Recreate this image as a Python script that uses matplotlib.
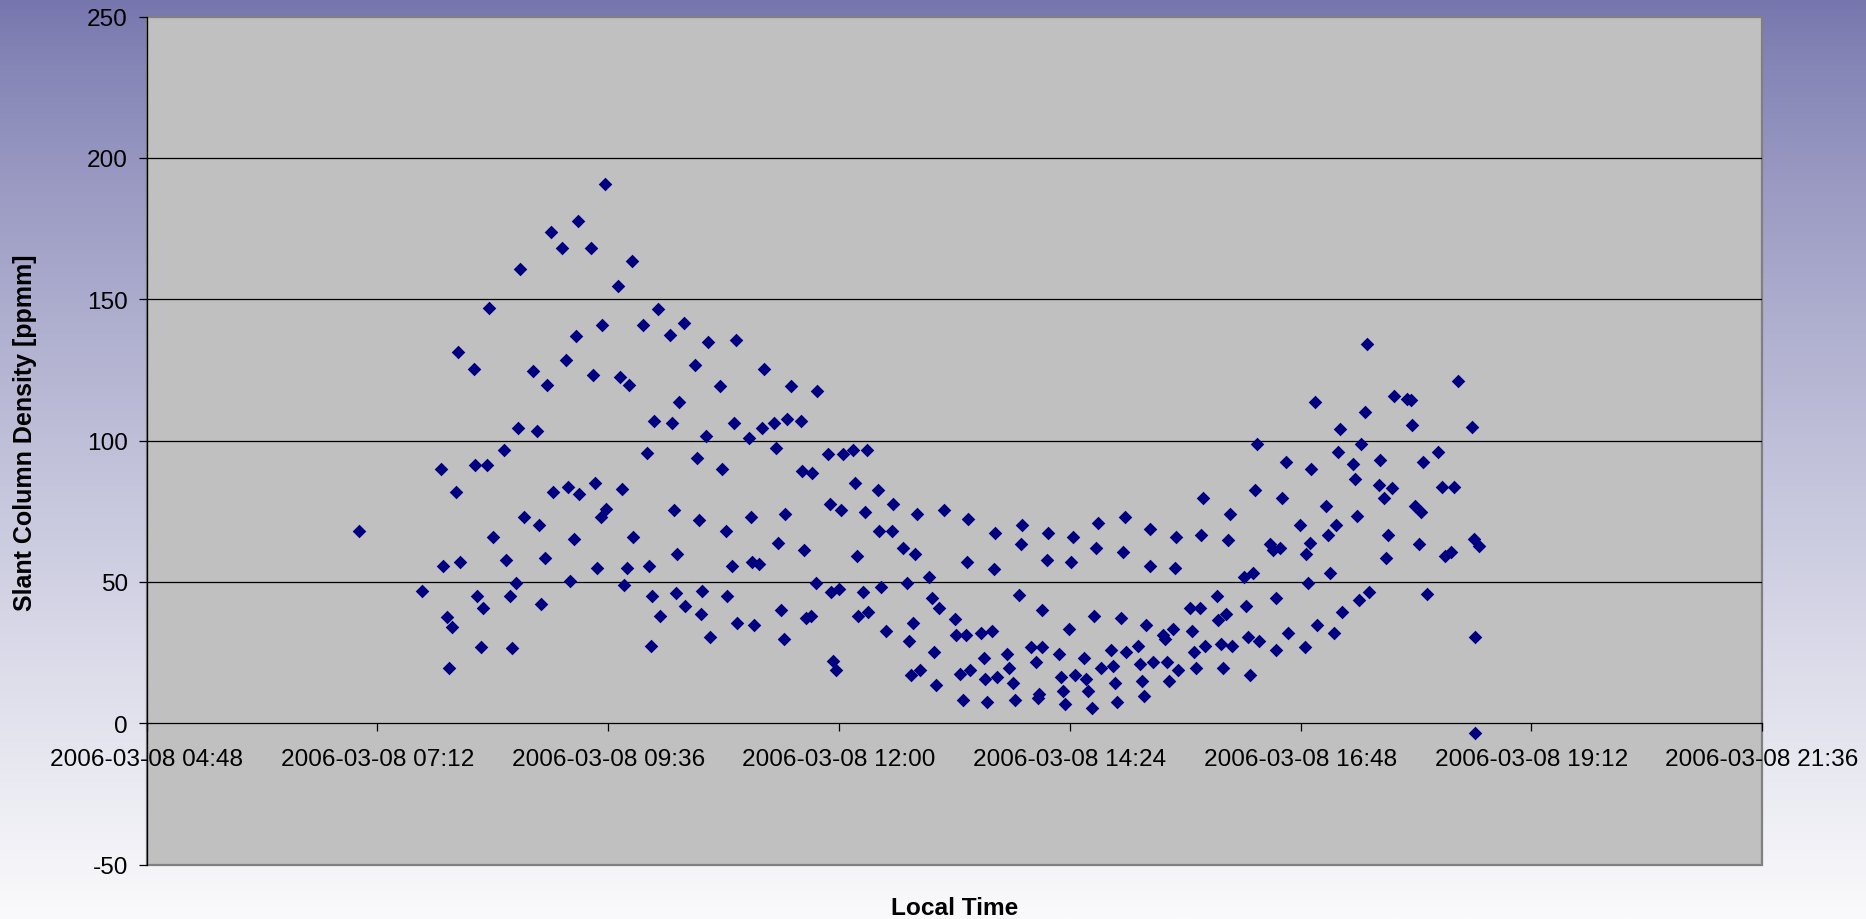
import numpy as np
import pandas as pd
import matplotlib
matplotlib.use("Agg")
import matplotlib.pyplot as plt
import matplotlib.dates as mdates
from matplotlib.patches import Rectangle

plt.rcParams['font.family'] = ['Liberation Sans', 'DejaVu Sans']
plt.rcParams['axes.unicode_minus'] = False

# local time of each measurement (hours of 2006-03-08) and slant column density [ppmm]
hours = [
    7.005, 7.66, 7.86, 7.88, 7.92, 7.94, 7.98, 8.02, 8.04, 8.06, 8.20, 8.218, 8.24, 8.28, 8.30,
    8.34, 8.36, 8.40, 8.52, 8.54, 8.58, 8.60, 8.64, 8.66, 8.679, 8.72, 8.82, 8.86, 8.88, 8.90,
    8.94, 8.96, 9.002, 9.023, 9.119, 9.161, 9.18, 9.20, 9.24, 9.262, 9.283, 9.30,
    9.42, 9.44, 9.467, 9.48, 9.52, 9.54, 9.563, 9.58, 9.70, 9.72, 9.74, 9.76, 9.80, 9.82,
    9.844, 9.86, 9.96, 10.00, 10.02, 10.04, 10.06, 10.08, 10.12, 10.14, 10.245, 10.26, 10.28,
    10.30, 10.32, 10.34, 10.385, 10.40, 10.50, 10.52, 10.54, 10.56, 10.58, 10.62, 10.64, 10.66,
    10.76, 10.78, 10.825, 10.84, 10.885, 10.905, 10.926, 10.94, 11.064, 11.085, 11.10, 11.12,
    11.165, 11.20, 11.22, 11.32, 11.345, 11.365, 11.40, 11.425, 11.44, 11.46, 11.50, 11.605,
    11.62, 11.64, 11.66, 11.71, 11.72, 11.77,
    11.76, 11.886, 11.91, 11.92, 11.94, 11.97, 12.00, 12.02, 12.04, 12.15, 12.17, 12.19, 12.20,
    12.245, 12.27, 12.29, 12.30, 12.405, 12.42, 12.44, 12.49, 12.55, 12.565, 12.665, 12.71,
    12.73, 12.745, 12.77, 12.79, 12.81, 12.845, 12.94, 12.965, 12.99, 13.01, 13.04, 13.095,
    13.21, 13.22, 13.26, 13.29, 13.32, 13.33, 13.345, 13.36, 13.48, 13.51, 13.52, 13.54, 13.59,
    13.61, 13.625, 13.64, 13.75, 13.77, 13.81, 13.83, 13.87, 13.89, 13.907, 14.00, 14.05, 14.07,
    14.08, 14.11, 14.11,
    14.16, 14.17, 14.29, 14.31, 14.33, 14.35, 14.39, 14.41, 14.43, 14.45, 14.55, 14.57, 14.59,
    14.63, 14.65, 14.67, 14.69, 14.73, 14.83, 14.85, 14.87, 14.89, 14.93, 14.95, 14.97, 14.99,
    15.11, 15.13, 15.15, 15.17, 15.19, 15.23, 15.23, 15.27, 15.37, 15.39, 15.41, 15.43, 15.47,
    15.49, 15.51, 15.53, 15.65, 15.67, 15.69, 15.71, 15.75, 15.76, 15.79, 15.81, 15.93, 15.945,
    15.97, 15.99, 16.03, 16.05, 16.07, 16.09, 16.21, 16.23, 16.25, 16.27, 16.31, 16.33, 16.35,
    16.37, 16.48, 16.51, 16.54, 16.54,
    16.59, 16.61, 16.65, 16.67, 16.79, 16.85, 16.86, 16.88, 16.90, 16.91, 16.95, 16.975, 17.07,
    17.09, 17.11, 17.15, 17.17, 17.19, 17.21, 17.235, 17.35, 17.37, 17.39, 17.41, 17.43, 17.47,
    17.495, 17.51, 17.62, 17.63, 17.67, 17.69, 17.71, 17.755, 17.775, 17.91, 17.95, 17.96, 17.99,
    18.03, 18.05, 18.07, 18.12, 18.23, 18.27, 18.30, 18.37, 18.40, 18.44, 18.58, 18.60, 18.61,
    18.61, 18.66,
]
scd = [
    68.0, 46.9, 89.9, 55.8, 37.5, 19.7, 34.0, 81.7, 131.4, 57.2, 125.3, 91.3, 44.9, 27.1, 40.8,
    91.3, 147.1, 66.0, 96.7, 57.9, 44.9, 26.5, 49.8, 104.3, 160.8, 72.9, 124.7, 103.4, 70.2, 42.2,
    58.6, 119.8, 173.7, 81.7, 168.2, 128.7, 83.7, 50.4, 65.3, 136.9, 177.6, 81.0,
    168.2, 123.4, 85.0, 55.1, 72.9, 141.0, 190.7, 75.7, 154.6, 122.6, 83.0, 48.9, 55.1, 119.8,
    163.5, 66.0, 141.0, 95.5, 55.8, 27.2, 44.9, 106.9, 146.5, 38.1, 137.5, 106.3, 75.5,
    46.2, 59.9, 113.7, 141.6, 41.5, 126.7, 94.0, 72.1, 38.7, 46.9, 101.6, 134.9, 30.6,
    119.2, 89.9, 68.0, 44.9, 55.8, 106.3, 135.5, 35.4, 100.8, 72.9, 57.2, 34.7,
    56.5, 104.3, 125.4, 106.3, 97.4, 63.9, 40.2, 29.9, 74.1, 107.7, 119.2, 106.9,
    89.3, 61.2, 37.4, 38.1, 88.6, 117.7,
    49.7, 95.3, 77.6, 46.4, 21.9, 18.9, 47.6, 75.6, 95.3, 96.7, 85.1, 59.2, 38.1,
    46.4, 74.9, 96.7, 39.5, 82.4, 68.0, 48.3, 32.7, 68.0, 77.6, 61.9, 49.8,
    29.1, 17.0, 35.4, 59.9, 74.2, 19.0, 51.7, 44.3, 25.1, 13.6, 40.8, 75.5,
    36.8, 31.2, 17.6, 8.1, 31.2, 57.2, 72.2, 19.0, 32.0, 23.1, 15.6, 7.4, 32.7,
    54.5, 67.4, 16.3, 24.4, 19.7, 14.3, 8.1, 45.5, 63.3, 70.2, 27.1, 21.7, 8.8,
    10.3, 27.1, 40.2,
    57.9, 67.4, 24.5, 16.3, 11.5, 6.8, 33.4, 57.2, 66.0, 17.0, 23.1, 15.6, 11.5,
    5.4, 38.1, 61.9, 70.8, 19.7, 25.8, 20.4, 14.3, 7.5, 37.4, 60.6, 72.9, 25.2,
    27.2, 21.1, 15.0, 9.5, 34.7, 68.8, 55.8, 21.8, 31.4, 29.9, 21.8, 15.0, 33.4,
    55.1, 66.0, 19.0, 40.8, 32.7, 25.2, 19.7, 40.8, 66.7, 79.6, 27.2, 44.9, 36.7,
    28.0, 19.7, 38.7, 64.8, 74.2, 27.2, 51.7, 41.5, 30.6, 17.0, 53.1, 82.4, 98.7,
    29.2, 63.3, 61.3, 44.2, 25.8,
    61.9, 79.6, 92.6, 32.0, 70.1, 27.1, 59.9, 49.6, 63.9, 89.9, 113.7, 34.7, 76.9,
    66.6, 53.1, 32.0, 70.1, 96.0, 104.1, 39.5, 91.9, 86.4, 73.5, 43.6, 98.7, 110.3,
    134.2, 46.4, 84.4, 93.3, 79.6, 58.5, 66.6, 83.2, 115.7, 114.6, 114.3, 105.6, 76.9,
    63.3, 74.9, 92.6, 45.6, 96.0, 83.7, 59.2, 60.6, 83.7, 121.2, 104.8, 65.3, 30.6,
    -3.4, 62.6,
]

day = pd.Timestamp('2006-03-08')
times = day + pd.to_timedelta(np.array(hours), unit='h')
x_ticks = pd.date_range('2006-03-08 04:48', '2006-03-08 21:36', freq='144min')
y_ticks = [-50, 0, 50, 100, 150, 200, 250]

fig = plt.figure(figsize=(18.66, 9.2), dpi=100)

# background gradient (purple at top fading to white)
bg = fig.add_axes([0, 0, 1, 1], zorder=-10)
top = np.array([117, 117, 173]) / 255
bottom = np.array([250, 250, 252]) / 255
f = np.linspace(0, 1, 400)[:, None] ** 0.8
grad = top + (bottom - top) * f
bg.imshow(grad[:, None, :], aspect='auto', extent=[0, 1, 0, 1])
bg.set_axis_off()

ax = fig.add_axes([0.0786, 0.0591, 0.8657, 0.9217])
ax.set_facecolor('#C0C0C0')

ax.scatter(times, scd, marker='D', s=48, color='#000080', linewidths=0, zorder=3)

ax.set_xlim(x_ticks[0], x_ticks[-1])
ax.set_ylim(-50, 250)
ax.set_xticks(x_ticks)
ax.xaxis.set_major_formatter(mdates.DateFormatter('%Y-%m-%d %H:%M'))
ax.set_yticks(y_ticks)

for v in [50, 100, 150, 200]:
    ax.axhline(v, color='black', lw=0.9, zorder=1)

ax.spines['bottom'].set_position(('data', 0))
ax.spines['bottom'].set_color('black')
ax.spines['bottom'].set_linewidth(0.9)
ax.spines['left'].set_color('black')
ax.spines['left'].set_linewidth(0.9)
ax.spines['top'].set_visible(False)
ax.spines['right'].set_visible(False)
ax.add_patch(Rectangle((0, 0), 1, 1, transform=ax.transAxes, fill=False,
                       edgecolor='#808080', lw=1.6, zorder=0.5, clip_on=False))

ax.tick_params(axis='x', direction='out', length=6, width=0.9, pad=12, labelsize=17.6)
ax.tick_params(axis='y', direction='out', length=5.5, width=0.9, pad=8, labelsize=17.6)

ax.set_xlabel('Local Time', fontsize=17.6, fontweight='bold', va='center')
ax.xaxis.set_label_coords(0.5, -0.051)
ax.set_ylabel('Slant Column Density [ppmm]', fontsize=18, fontweight='bold')
ax.yaxis.set_label_coords(-0.068, 0.51)

fig.savefig('out.png', dpi=100)
